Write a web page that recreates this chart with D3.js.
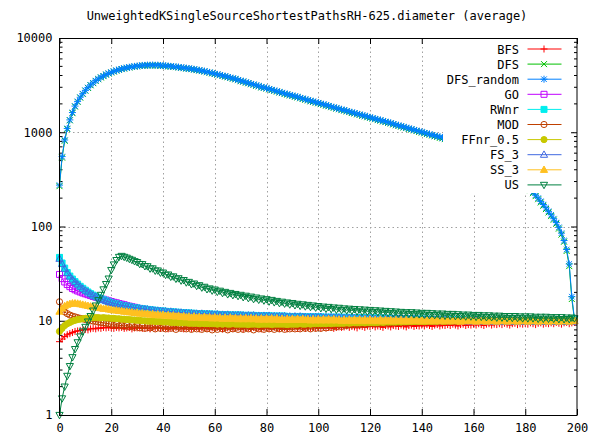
<!DOCTYPE html>
<html><head><meta charset="utf-8">
<script src="https://cdn.jsdelivr.net/npm/d3@7"></script>
<style>
body{margin:0;background:#fff}
text{font-family:"DejaVu Sans Mono","Liberation Mono",monospace;font-size:12px;fill:#000}
</style>
</head><body>
<svg id="chart" width="607" height="439"></svg>
<script>
const title = "UnweightedKSingleSourceShortestPathsRH-625.diameter (average)";
const xStart = 0, nPoints = 200;
const xTicks = [0,20,40,60,80,100,120,140,160,180,200];
const yTicks = [1,10,100,1000,10000];
const seriesNames = ["BFS","DFS","DFS_random","GO","RWnr","MOD","FFnr_0.5","FS_3","SS_3","US"];
const seriesColors = ["#ff0000","#00c000","#0080ff","#c000ff","#00eeee","#c04000","#c8c800","#4169e1","#ffc020","#008040"];
const seriesMarkers = ["plus","cross","star","square","squareF","circle","circleF","tri","triF","triDown"];

const BFS = [6.0,6.4,6.8,7.1,7.3,7.5,7.7,7.8,7.9,8.0,
8.1,8.0,8.2,8.3,8.2,8.4,8.3,8.5,8.4,8.5,
8.4,8.3,8.5,8.4,8.5,8.3,8.4,8.5,8.2,8.4,
8.4,8.5,8.3,8.4,8.4,8.2,8.5,8.4,8.5,8.3,
8.4,8.4,8.2,8.5,8.3,8.5,8.4,8.4,8.2,8.4,
8.5,8.3,8.4,8.5,8.2,8.4,8.5,8.3,8.4,8.4,
8.3,8.5,8.4,8.2,8.4,8.4,8.5,8.3,8.4,8.5,
8.4,8.2,8.5,8.4,8.3,8.5,8.4,8.4,8.2,8.4,
8.5,8.3,8.4,8.5,8.4,8.3,8.5,8.4,8.2,8.5,
8.4,8.5,8.3,8.4,8.5,8.3,8.5,8.4,8.5,8.4,
8.5,8.4,8.6,8.4,8.5,8.5,8.3,8.5,8.6,8.5,
8.6,8.8,8.5,8.7,8.6,8.4,8.8,8.7,8.5,8.8,
8.7,8.9,8.6,8.8,8.7,8.5,8.9,8.8,8.6,8.9,
8.8,8.7,9.0,8.8,8.6,8.9,9.0,8.7,8.9,8.8,
9.0,8.8,9.1,8.9,8.7,9.0,9.1,8.8,9.0,8.9,
9.1,8.9,9.2,9.0,8.8,9.1,9.2,8.9,9.1,9.0,
9.2,9.0,9.3,9.1,8.9,9.2,9.3,9.0,9.2,9.1,
9.3,9.1,9.4,9.2,9.0,9.3,9.4,9.1,9.3,9.2,
9.4,9.2,9.5,9.3,9.1,9.4,9.5,9.2,9.4,9.3,
9.5,9.3,9.6,9.4,9.2,9.5,9.6,9.3,9.5,9.6];

const DFS = [268,538,812,1082,1338,1596,1872,2098,2328,2542,
2758,2952,3148,3318,3496,3652,3806,3938,4078,4192,
4306,4402,4506,4588,4676,4738,4818,4866,4924,4966,
5012,5046,5082,5098,5120,5118,5136,5112,5116,5082,
5068,5036,5010,4976,4944,4910,4874,4830,4794,4742,
4712,4668,4622,4562,4522,4456,4408,4336,4282,4208,
4146,4082,4024,3952,3898,3832,3766,3702,3644,3570,
3482,3442,3354,3310,3230,3192,3112,3072,2990,2958,
2906,2852,2800,2746,2698,2642,2604,2548,2508,2458,
2428,2378,2342,2294,2256,2212,2176,2130,2098,2056,
2030,1986,1958,1916,1890,1846,1820,1782,1756,1718,
1698,1662,1638,1602,1582,1548,1528,1494,1474,1444,
1422,1394,1374,1346,1328,1300,1282,1256,1238,1210,
1186,1166,1148,1124,1108,1084,1068,1046,1030,1008,
992,974,958,940,924,906,892,872,862,846,
830,814,798,780,764,748,732,716,700,684,
668,652,636,620,604,588,570,550,530,510,
490,470,450,430,410,390,370,350,330,306,
284,262,243,226,210,195,180,166,153,141,
129,118,107,95,82,69,55,38,17,10.4];

const DFS_random = [275,552,828,1098,1352,1618,1895,2125,2352,2568,
2785,2978,3176,3342,3528,3676,3838,3962,4108,4215,
4338,4425,4538,4612,4708,4762,4850,4893,4958,4992,
5048,5072,5118,5124,5158,5146,5172,5138,5152,5108,
5105,5062,5048,5001,4982,4938,4912,4856,4832,4768,
4752,4694,4662,4588,4561,4482,4446,4362,4318,4236,
4182,4108,4062,3978,3936,3858,3802,3728,3682,3596,
3512,3468,3388,3336,3262,3218,3142,3098,3018,2986,
2938,2878,2832,2771,2728,2668,2634,2572,2538,2482,
2458,2402,2372,2318,2284,2236,2202,2152,2126,2078,
2055,2008,1982,1938,1912,1866,1842,1802,1778,1738,
1720,1682,1658,1622,1602,1566,1548,1512,1494,1462,
1440,1412,1392,1362,1346,1316,1298,1272,1254,1226,
1200,1182,1162,1138,1122,1098,1082,1058,1044,1022,
1006,986,972,952,938,918,906,890,876,858,
842,826,810,792,776,760,744,728,712,696,
680,664,648,632,616,600,582,562,542,522,
502,482,462,442,422,402,382,362,342,316,
292,270,250,232,215,200,185,171,158,145,
133,121,110,98,85,71,57,40,18,10.6];

const GO = [31.0,28.0,25.8,24.2,23.0,22.0,21.3,20.7,20.2,19.7,
19.3,18.9,18.5,18.1,17.8,17.5,17.2,16.9,16.6,16.3,
16.0,15.7,15.5,15.2,15.0,14.8,14.5,14.3,14.1,13.9,
13.7,13.5,13.4,13.2,13.1,12.9,12.8,12.7,12.6,12.5,
12.4,12.3,12.2,12.1,12.0,12.0,11.9,11.8,11.8,11.7,
11.7,11.6,11.6,11.5,11.5,11.4,11.4,11.4,11.3,11.3,
11.3,11.2,11.2,11.2,11.1,11.1,11.1,11.1,11.0,11.0,
11.0,11.0,10.9,11.0,10.9,10.9,10.9,10.8,10.9,10.8,
10.8,10.8,10.8,10.7,10.8,10.7,10.7,10.7,10.7,10.6,
10.7,10.6,10.6,10.6,10.6,10.6,10.5,10.6,10.5,10.5,
10.5,10.5,10.5,10.4,10.5,10.4,10.4,10.4,10.4,10.4,
10.4,10.3,10.4,10.3,10.3,10.3,10.3,10.3,10.3,10.2,
10.3,10.2,10.2,10.2,10.2,10.2,10.2,10.2,10.1,10.2,
10.1,10.2,10.1,10.1,10.1,10.1,10.1,10.1,10.1,10.1,
10.1,10.0,10.1,10.0,10.1,10.0,10.0,10.1,10.0,10.0,
10.0,10.0,10.1,10.0,10.0,10.0,9.9,10.0,10.0,10.0,
10.0,9.9,10.0,10.0,10.0,9.9,10.0,10.0,9.9,10.0,
10.0,9.9,10.0,9.9,10.0,10.0,9.9,10.0,9.9,10.0,
9.9,10.0,10.0,9.9,10.0,9.9,10.0,9.9,10.0,9.9,
10.0,9.9,10.0,9.9,10.0,10.0,9.9,10.0,9.9,10.0];

const RWnr = [47.0,41.0,36.2,32.5,29.8,27.7,26.0,24.5,23.2,22.1,
21.1,20.2,19.4,18.7,18.1,17.6,17.1,16.7,16.3,15.9,
15.6,15.3,15.1,14.8,14.6,14.4,14.3,14.1,13.9,13.8,
13.7,13.5,13.4,13.3,13.2,13.1,13.0,12.9,12.8,12.7,
12.7,12.6,12.5,12.5,12.4,12.3,12.3,12.2,12.2,12.1,
12.1,12.0,12.0,11.9,11.9,11.9,11.8,11.8,11.8,11.7,
11.7,11.7,11.6,11.6,11.6,11.6,11.5,11.5,11.5,11.5,
11.5,11.4,11.4,11.4,11.4,11.4,11.3,11.3,11.3,11.3,
11.3,11.3,11.2,11.2,11.2,11.2,11.2,11.2,11.1,11.1,
11.1,11.1,11.1,11.1,11.1,11.0,11.0,11.0,11.0,11.0,
11.0,11.0,10.9,10.9,10.9,10.9,10.9,10.9,10.9,10.9,
10.8,10.9,10.8,10.8,10.8,10.8,10.8,10.7,10.8,10.7,
10.7,10.7,10.7,10.7,10.6,10.7,10.6,10.6,10.6,10.6,
10.5,10.6,10.5,10.5,10.5,10.5,10.4,10.5,10.4,10.4,
10.4,10.4,10.3,10.4,10.3,10.3,10.3,10.3,10.2,10.3,
10.2,10.2,10.2,10.2,10.2,10.1,10.2,10.1,10.1,10.1,
10.1,10.1,10.1,10.0,10.1,10.0,10.1,10.0,10.0,10.0,
10.0,10.0,10.0,10.0,10.0,10.0,10.0,9.9,10.0,10.0,
10.0,9.9,10.0,10.0,9.9,10.0,10.0,9.9,10.0,10.0,
9.9,10.0,10.0,9.9,10.0,10.0,9.9,10.0,10.0,10.2];

const MOD = [15.9,13.2,12.4,11.9,11.5,11.2,11.0,10.8,10.6,10.5,
10.3,10.2,10.0,9.9,9.8,9.7,9.6,9.5,9.4,9.3,
9.2,8.9,9.2,8.8,9.0,8.7,9.0,8.6,8.9,8.5,
8.9,8.4,8.8,8.3,8.8,8.4,8.7,8.2,8.8,8.3,
8.7,8.2,8.6,8.3,8.7,8.1,8.6,8.3,8.7,8.2,
8.6,8.1,8.6,8.2,8.7,8.1,8.5,8.2,8.6,8.0,
8.5,8.1,8.6,8.2,8.5,8.0,8.6,8.2,8.5,8.1,
8.6,8.1,8.5,8.2,8.6,8.0,8.5,8.2,8.6,8.1,
8.5,8.2,8.6,8.1,8.5,8.2,8.6,8.1,8.6,8.2,
8.6,8.2,8.7,8.2,8.6,8.3,8.7,8.2,8.7,8.3,
8.8,8.3,8.8,8.4,8.9,8.5,8.9,8.6,9.0,8.7,
9.0,8.9,9.1,9.0,9.1,9.2,9.1,9.2,9.3,9.2,
9.3,9.4,9.3,9.4,9.4,9.5,9.4,9.5,9.5,9.6,
9.5,9.6,9.6,9.7,9.6,9.7,9.7,9.8,9.7,9.8,
9.8,9.7,9.8,9.9,9.8,9.9,9.8,9.9,9.9,9.8,
9.9,10.0,9.9,9.8,9.9,10.0,9.9,9.9,10.0,9.9,
10.0,9.9,10.0,9.9,10.0,10.0,9.9,10.0,10.1,10.0,
9.9,10.0,10.1,10.0,10.0,9.9,10.0,10.1,10.0,10.0,
10.1,10.0,10.0,10.1,10.0,9.9,10.0,10.1,10.0,10.1,
10.0,10.1,10.0,10.0,10.1,10.0,10.1,10.0,10.0,10.1];

const FFnr_05 = [7.7,8.3,8.9,9.3,9.6,9.9,10.1,10.3,10.4,10.5,
10.6,10.7,10.7,10.8,10.8,10.8,10.7,10.8,10.7,10.7,
10.6,10.6,10.5,10.5,10.4,10.4,10.3,10.3,10.2,10.2,
10.1,10.1,10.0,10.0,9.9,9.9,9.9,9.8,9.8,9.8,
9.7,9.7,9.7,9.6,9.6,9.6,9.5,9.5,9.5,9.5,
9.4,9.4,9.4,9.4,9.3,9.4,9.3,9.3,9.3,9.3,
9.3,9.2,9.3,9.2,9.3,9.2,9.2,9.3,9.2,9.2,
9.2,9.2,9.2,9.1,9.2,9.2,9.2,9.1,9.2,9.2,
9.2,9.2,9.1,9.2,9.2,9.2,9.2,9.2,9.1,9.2,
9.2,9.2,9.2,9.3,9.2,9.2,9.3,9.2,9.3,9.3,
9.3,9.3,9.3,9.3,9.4,9.3,9.4,9.4,9.4,9.4,
9.4,9.5,9.4,9.5,9.5,9.5,9.5,9.6,9.5,9.6,
9.6,9.6,9.6,9.6,9.7,9.6,9.7,9.7,9.7,9.7,
9.7,9.8,9.7,9.8,9.8,9.8,9.8,9.8,9.9,9.8,
9.9,9.8,9.9,9.9,9.9,9.9,9.9,10.0,9.9,9.9,
10.0,9.9,10.0,10.0,9.9,10.0,10.0,10.0,10.0,10.0,
10.0,10.1,10.0,10.0,10.0,10.1,10.0,10.0,10.1,10.0,
10.0,10.1,10.0,10.1,10.0,10.0,10.1,10.0,10.1,10.0,
10.1,10.0,10.1,10.0,10.1,10.1,10.0,10.1,10.0,10.1,
10.1,10.0,10.1,10.1,10.0,10.1,10.1,10.0,10.1,10.1];

const FS_3 = [45.5,40.0,35.6,32.1,29.5,27.4,25.7,24.3,23.0,21.9,
20.9,20.1,19.3,18.6,18.0,17.5,17.0,16.6,16.2,15.9,
15.5,15.3,15.0,14.8,14.5,14.4,14.2,14.1,13.9,13.7,
13.7,13.4,13.4,13.2,13.2,13.0,13.0,12.8,12.8,12.7,
12.6,12.6,12.4,12.5,12.3,12.3,12.2,12.2,12.1,12.1,
12.0,12.0,11.9,11.9,11.8,11.9,11.7,11.8,11.7,11.7,
11.6,11.7,11.5,11.6,11.5,11.6,11.4,11.5,11.4,11.5,
11.4,11.4,11.3,11.4,11.3,11.4,11.2,11.3,11.2,11.3,
11.2,11.3,11.1,11.2,11.1,11.2,11.1,11.2,11.0,11.1,
11.0,11.1,11.0,11.1,11.0,11.0,10.9,11.0,10.9,11.0,
10.9,11.0,10.8,10.9,10.8,10.9,10.8,10.9,10.8,10.8,
10.7,10.8,10.7,10.8,10.7,10.7,10.6,10.7,10.6,10.7,
10.6,10.6,10.5,10.6,10.5,10.6,10.5,10.5,10.4,10.5,
10.4,10.5,10.4,10.4,10.3,10.4,10.3,10.4,10.3,10.3,
10.2,10.3,10.2,10.3,10.2,10.2,10.1,10.2,10.1,10.2,
10.1,10.1,10.0,10.1,10.0,10.1,10.0,10.0,9.9,10.0,
9.9,10.0,9.9,10.0,9.9,9.9,9.9,10.0,9.9,9.9,
9.9,9.9,9.8,9.9,9.9,9.8,9.9,9.9,9.8,9.9,
9.9,9.8,9.9,9.8,9.9,9.9,9.8,9.9,9.8,9.9,
9.8,9.9,9.9,9.8,9.9,9.8,9.9,9.9,9.8,10.0];

const SS_3 = [12.5,13.5,14.3,14.8,15.1,15.3,15.3,15.2,15.0,14.8,
14.6,14.4,14.2,14.0,13.9,13.7,13.6,13.4,13.4,13.2,
13.1,12.9,12.9,12.7,12.7,12.5,12.5,12.3,12.3,12.1,
12.2,11.9,12.0,11.8,11.9,11.6,11.8,11.5,11.7,11.4,
11.6,11.3,11.5,11.2,11.4,11.1,11.3,11.0,11.2,10.9,
11.1,10.8,11.1,10.8,11.0,10.7,11.0,10.7,10.9,10.6,
10.9,10.6,10.8,10.5,10.8,10.5,10.8,10.5,10.7,10.4,
10.7,10.4,10.7,10.4,10.7,10.4,10.6,10.3,10.6,10.3,
10.6,10.3,10.6,10.3,10.6,10.2,10.5,10.2,10.5,10.2,
10.5,10.2,10.5,10.2,10.5,10.2,10.4,10.1,10.4,10.1,
10.4,10.1,10.4,10.1,10.4,10.1,10.4,10.1,10.3,10.0,
10.3,10.0,10.3,10.0,10.3,10.0,10.3,10.0,10.3,10.0,
10.3,10.0,10.2,10.0,10.3,9.9,10.2,10.0,10.2,9.9,
10.2,10.0,10.2,9.9,10.2,9.9,10.2,10.0,10.2,9.9,
10.2,9.9,10.1,9.9,10.2,9.9,10.1,9.9,10.2,9.9,
10.1,9.9,10.1,9.9,10.1,9.8,10.1,9.9,10.1,9.9,
10.1,9.8,10.1,9.9,10.1,9.8,10.1,9.9,10.1,9.8,
10.1,9.9,10.1,9.8,10.1,9.9,10.1,9.8,10.0,9.9,
10.1,9.8,10.0,9.9,10.1,9.8,10.0,9.9,10.1,9.8,
10.0,9.9,10.1,9.8,10.0,9.9,10.0,9.8,10.1,9.9];

const US = [1.0,1.5,2.0,2.6,3.3,4.1,5.0,5.9,6.8,7.7,
8.6,9.8,11.2,12.8,14.5,16.5,18.8,21.5,24.5,28.0,
34.5,39.5,44.0,47.5,48.7,47.6,46.6,45.3,44.2,42.8,
41.9,40.0,39.8,37.9,37.8,35.8,35.9,34.0,34.1,32.4,
32.4,30.7,30.9,29.3,29.5,27.9,28.2,26.7,27.0,25.5,
25.8,24.4,24.8,23.4,23.8,22.5,22.9,21.6,22.0,20.9,
21.4,20.3,20.8,19.7,20.2,19.1,19.7,18.7,19.2,18.3,
18.8,17.8,18.4,17.4,18.0,17.0,17.6,16.7,17.2,16.4,
16.9,16.0,16.6,15.7,16.2,15.4,15.9,15.2,15.6,14.9,
15.4,14.6,15.1,14.4,14.9,14.2,14.7,14.0,14.5,13.8,
14.3,13.6,14.1,13.4,14.0,13.3,13.8,13.1,13.7,13.0,
13.5,12.9,13.4,12.8,13.3,12.6,13.2,12.5,13.1,12.5,
13.0,12.4,12.9,12.3,12.8,12.2,12.7,12.1,12.6,12.0,
12.5,11.9,12.4,11.9,12.3,11.8,12.3,11.7,12.2,11.7,
12.1,11.6,12.1,11.5,12.0,11.5,11.9,11.4,11.9,11.3,
11.8,11.3,11.8,11.2,11.7,11.2,11.6,11.1,11.6,11.1,
11.5,11.0,11.5,11.0,11.4,10.9,11.4,10.9,11.3,10.8,
11.3,10.8,11.2,10.7,11.2,10.7,11.2,10.7,11.1,10.6,
11.1,10.6,11.1,10.6,11.0,10.5,11.0,10.5,11.0,10.5,
10.9,10.5,10.9,10.4,10.9,10.4,10.8,10.4,10.8,10.6];

const seriesValues = [BFS, DFS, DFS_random, GO, RWnr, MOD, FFnr_05, FS_3, SS_3, US];

// ---------- layout ----------
const W = 607, H = 439;
const L = 59.5, R = 577, T = 38, B = 415;
const svg = d3.select("#chart");
svg.append("rect").attr("width", W).attr("height", H).attr("fill", "#fff");

const xs = d3.range(xStart, xStart + nPoints);
const x = d3.scaleLinear().domain([0, 200]).range([L, R]);
const y = d3.scaleLog().domain([1, 10000]).range([B, T]);

// grid
const grid = svg.append("g").attr("stroke", "#a0a0a0").attr("stroke-width", 1).attr("stroke-dasharray", "1.5,3");
grid.selectAll("line.gx").data(xTicks.slice(1, -1)).enter().append("line")
  .attr("x1", d => Math.round(x(d)) + 0.5).attr("x2", d => Math.round(x(d)) + 0.5)
  .attr("y1", T).attr("y2", B);
grid.selectAll("line.gy").data(yTicks.slice(1, -1)).enter().append("line")
  .attr("y1", d => Math.round(y(d)) + 0.5).attr("y2", d => Math.round(y(d)) + 0.5)
  .attr("x1", L).attr("x2", R);

// axes
const fmt = d3.format("d");
const axB = svg.append("g").attr("transform", `translate(0,${B})`)
  .call(d3.axisBottom(x).tickValues(xTicks).tickSizeInner(-6).tickSizeOuter(0).tickPadding(8).tickFormat(fmt));
const axT = svg.append("g").attr("transform", `translate(0,${T})`)
  .call(d3.axisTop(x).tickValues(xTicks).tickSizeInner(-6).tickSizeOuter(0).tickFormat(""));
const axL = svg.append("g").attr("transform", `translate(${L},0)`)
  .call(d3.axisLeft(y).tickValues(yTicks).tickSizeInner(-6).tickSizeOuter(0).tickPadding(7).tickFormat(fmt));
const axR = svg.append("g").attr("transform", `translate(${R},0)`)
  .call(d3.axisRight(y).tickValues(yTicks).tickSizeInner(-6).tickSizeOuter(0).tickFormat(""));
[axB, axT, axL, axR].forEach(a => {
  a.select(".domain").remove();
  a.selectAll("text").style("font-family", '"DejaVu Sans Mono","Liberation Mono",monospace').style("font-size", "12px").attr("fill", "#000");
  a.selectAll("line").attr("stroke", "#000");
});

// minor log ticks
const minor = [];
for (let dec = 1; dec < 10000; dec *= 10) for (let k = 2; k <= 9; k++) minor.push(dec * k);
const mt = svg.append("g").attr("stroke", "#000");
mt.selectAll("line.ml").data(minor).enter().append("line")
  .attr("x1", L).attr("x2", L + 3).attr("y1", d => y(d)).attr("y2", d => y(d));
mt.selectAll("line.mr").data(minor).enter().append("line")
  .attr("x1", R - 3).attr("x2", R).attr("y1", d => y(d)).attr("y2", d => y(d));

// marker shapes
function markerPath(type) {
  switch (type) {
    case "plus": return "M-3.5,0H3.5M0,-3.5V3.5";
    case "cross": return "M-3,-3L3,3M-3,3L3,-3";
    case "star": return "M-3.5,0H3.5M0,-3.5V3.5M-2.8,-2.8L2.8,2.8M-2.8,2.8L2.8,-2.8";
    case "square": case "squareF": return "M-3,-3H3V3H-3Z";
    case "circle": case "circleF": return d3.symbol(d3.symbolCircle, 30)();
    case "tri": case "triF": return "M0,-3.8L3.6,2.6H-3.6Z";
    case "triDown": return "M0,3.8L3.6,-2.6H-3.6Z";
  }
}
const filled = t => t.endsWith("F");
const line = d3.line().x(d => x(d[0])).y(d => y(d[1]));

// series
seriesValues.forEach((vals, i) => {
  const pts = xs.map((xv, j) => [xv, vals[j]]);
  const g = svg.append("g");
  g.append("path").attr("d", line(pts)).attr("fill", "none")
    .attr("stroke", seriesColors[i]).attr("stroke-width", 1);
  const mp = markerPath(seriesMarkers[i]);
  g.selectAll("path.m").data(pts).enter().append("path").attr("class", "m")
    .attr("d", mp)
    .attr("transform", d => `translate(${x(d[0])},${y(d[1])})`)
    .attr("fill", filled(seriesMarkers[i]) ? seriesColors[i] : "none")
    .attr("stroke", seriesColors[i]).attr("stroke-width", 1);
});

// legend (opaque)
const lg = svg.append("g");
lg.append("rect").attr("x", 443).attr("y", T + 1).attr("width", 127).attr("height", 154).attr("fill", "#fff");
seriesNames.forEach((name, i) => {
  const yy = 49 + i * 15.1;
  lg.append("text").attr("x", 519).attr("y", yy + 4.5).attr("text-anchor", "end").text(name);
  lg.append("line").attr("x1", 527.5).attr("x2", 561.5).attr("y1", yy).attr("y2", yy)
    .attr("stroke", seriesColors[i]).attr("stroke-width", 1);
  lg.append("path").attr("d", markerPath(seriesMarkers[i]))
    .attr("transform", `translate(544,${yy})`)
    .attr("fill", filled(seriesMarkers[i]) ? seriesColors[i] : "none")
    .attr("stroke", seriesColors[i]).attr("stroke-width", 1);
});

// border
svg.append("rect").attr("x", L).attr("y", T + 0.5).attr("width", R - L).attr("height", B - T)
  .attr("fill", "none").attr("stroke", "#000").attr("stroke-width", 1);

// title
svg.append("text").attr("x", 307).attr("y", 20).attr("text-anchor", "middle").text(title);
</script>
</body></html>
